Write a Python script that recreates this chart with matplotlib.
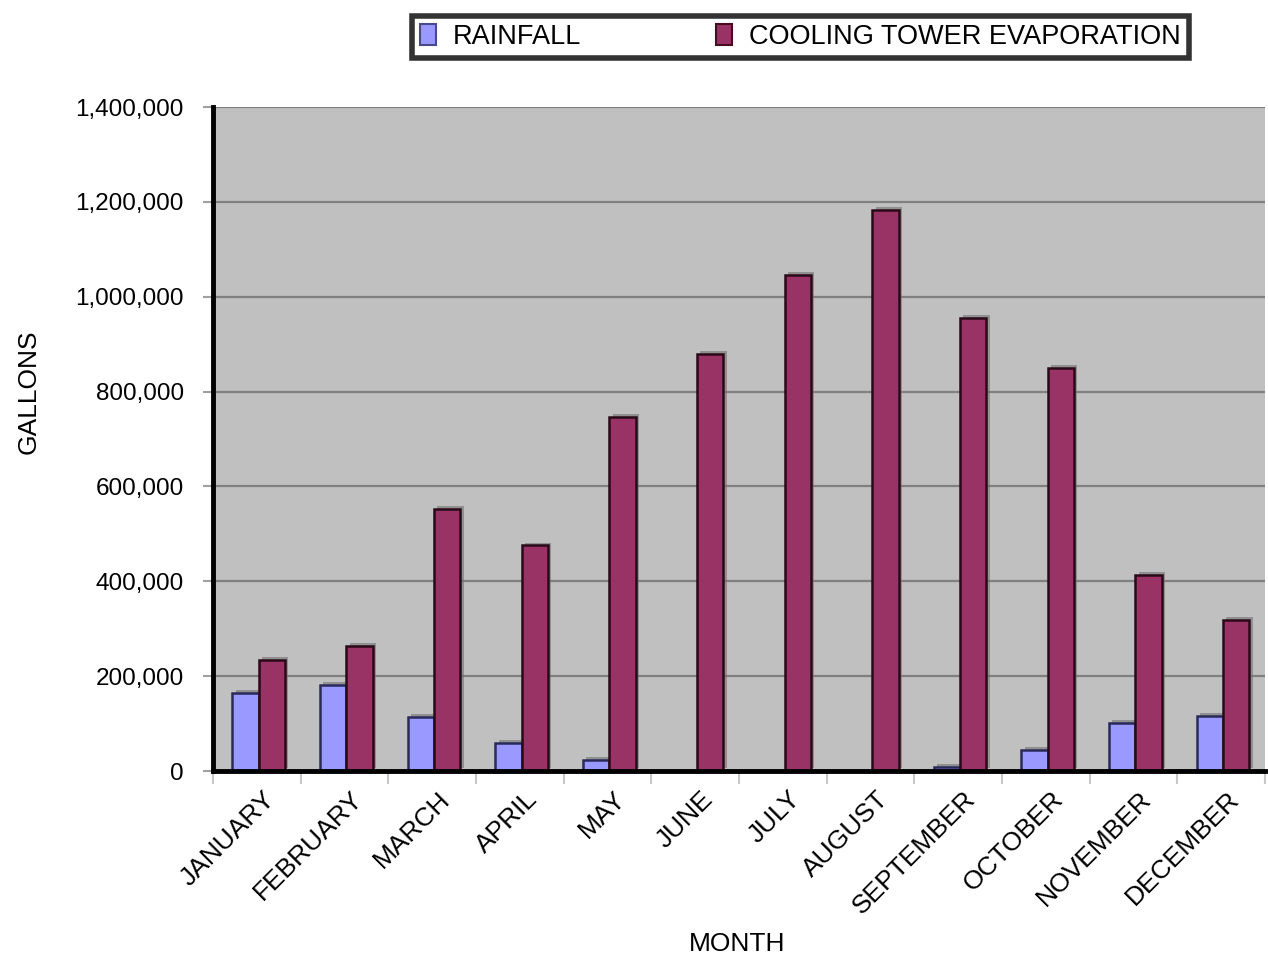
import numpy as np
import matplotlib
matplotlib.use("Agg")
import matplotlib.pyplot as plt
import matplotlib.patheffects as pe
from matplotlib.patches import Patch
from matplotlib.ticker import FuncFormatter, FixedLocator
from matplotlib.transforms import ScaledTranslation

plt.rcParams['font.family'] = ['Liberation Sans', 'DejaVu Sans']

months = ['JANUARY', 'FEBRUARY', 'MARCH', 'APRIL', 'MAY', 'JUNE', 'JULY',
          'AUGUST', 'SEPTEMBER', 'OCTOBER', 'NOVEMBER', 'DECEMBER']
rainfall = [164000, 181000, 114000, 59000, 23000, 0, 0, 0, 8000, 44000, 101000, 116000]
evaporation = [234000, 264000, 552000, 476000, 746000, 879000, 1046000,
               1183000, 955000, 850000, 413000, 318000]

rain_color = '#9999FF'
evap_color = '#993366'

fig = plt.figure(figsize=(12.68, 9.65), dpi=100)
ax = fig.add_axes([0.168, 0.201, 0.8296, 0.688])
ax.set_facecolor('#C0C0C0')

x = np.arange(len(months))
w = 0.3
shadow = [pe.SimplePatchShadow(offset=(2.5, 2), shadow_rgbFace='#707070', alpha=0.6), pe.Normal()]

b1 = ax.bar(x - w / 2 + 0.02, rainfall, w, color=rain_color, edgecolor='#2a2a5a', linewidth=1.8, zorder=3)
b2 = ax.bar(x + w / 2 + 0.02, evaporation, w, color=evap_color, edgecolor='#2a0a18', linewidth=1.8, zorder=3)
for b in list(b1) + list(b2):
    if b.get_height() > 0:
        b.set_path_effects(shadow)

ax.set_xlim(-0.5, len(months) - 0.5)
ax.set_ylim(0, 1400000)
ax.set_yticks(np.arange(0, 1400001, 200000))
ax.yaxis.set_major_formatter(FuncFormatter(lambda v, p: f'{int(v):,}'))
ax.yaxis.grid(True, color='#808080', linewidth=1.6, zorder=1)
ax.set_axisbelow(True)

for s in ['top', 'right']:
    ax.spines[s].set_visible(False)
for s in ['left', 'bottom']:
    ax.spines[s].set_linewidth(3.5)
    ax.spines[s].set_color('black')
    ax.spines[s].set_zorder(5)

ax.tick_params(axis='y', direction='out', length=7, width=1.5, color='#a0a0a0',
               labelsize=17.5, pad=14)
# x ticks at category boundaries, labels at centres
ax.xaxis.set_major_locator(FixedLocator(np.arange(-0.5, len(months), 1.0)))
ax.xaxis.set_major_formatter(FuncFormatter(lambda v, p: ''))
ax.xaxis.set_minor_locator(FixedLocator(x))
ax.set_xticks(x, months, minor=True)
ax.tick_params(axis='x', which='major', direction='out', length=9, width=1.5, color='#c8c8c8')
ax.tick_params(axis='x', which='minor', length=0, labelsize=19, pad=6)
off = ScaledTranslation(14 / 100, -16 / 100, fig.dpi_scale_trans)
for lab in ax.get_xticklabels(minor=True):
    lab.set_rotation(45)
    lab.set_ha('right')
    lab.set_va('center')
    lab.set_rotation_mode('anchor')
    lab.set_transform(lab.get_transform() + off)

ax.set_ylabel('GALLONS', fontsize=19)
ax.yaxis.set_label_coords(-0.1635, 0.572)
ax.set_xlabel('MONTH', fontsize=19)
ax.xaxis.set_label_coords(0.498, -0.243)

handles = [Patch(facecolor=rain_color, edgecolor='#4a4a8a', linewidth=1.5),
           Patch(facecolor=evap_color, edgecolor='#4a0a20', linewidth=1.5)]
leg = fig.legend(handles, ['RAINFALL', 'COOLING TOWER EVAPORATION'], ncol=2,
                 loc='center', bbox_to_anchor=(0.631, 0.962), fontsize=19.5,
                 frameon=True, fancybox=False, edgecolor='black',
                 handlelength=0.6, handleheight=0.8, handletextpad=0.6,
                 columnspacing=5.0, borderpad=0.3, borderaxespad=0)
leg.get_frame().set_linewidth(4)

fig.savefig('out.png', dpi=100, facecolor='white')
